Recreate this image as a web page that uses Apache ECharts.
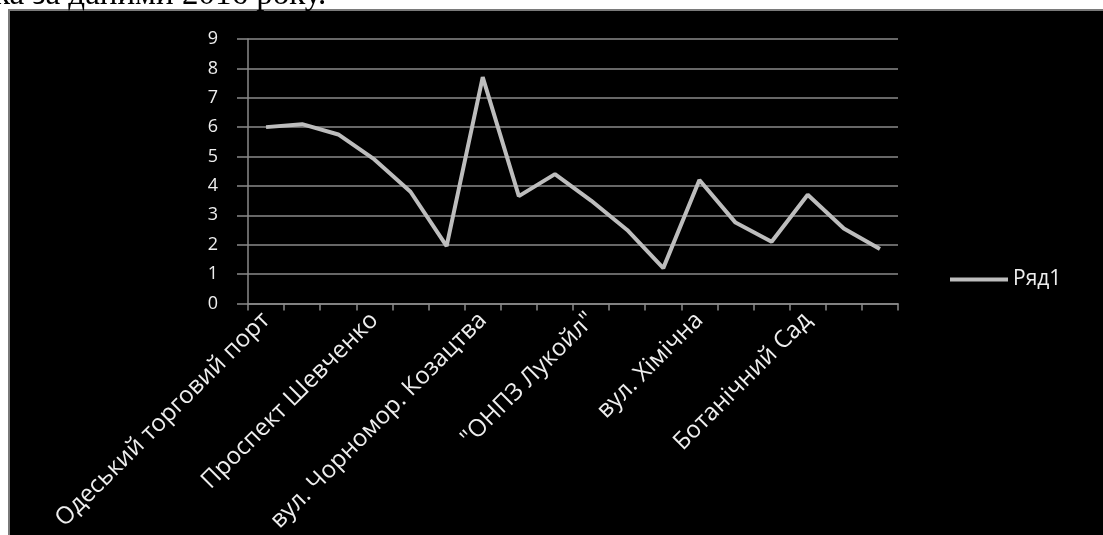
<!DOCTYPE html>
<html>
	<head>
		<meta charset="utf-8" />
		<title>Ряд1</title>
		<style type="text/css">
			html, body {margin:0;padding:0;background:#fff;}
			#chart {width:1103px;height:535px;}
		</style>
	</head>
	<body>
		<div id="chart"></div>
		<script src="https://cdn.jsdelivr.net/npm/echarts@6/dist/echarts.min.js"></script>
		<script type="text/javascript">
			// categories (18 stations, every 3rd is labelled)
			const categories = [
				'Одеський торговий порт', '', '',
				'Проспект Шевченко', '', '',
				'вул. Чорномор. Козацтва', '', '',
				'"ОНПЗ Лукойл"', '', '',
				'вул. Хімічна', '', '',
				'Ботанічний Сад', '', ''
			];
			// series values
			const values = [6.0, 6.1, 5.75, 4.9, 3.8, 1.95, 7.7, 3.65, 4.4, 3.5, 2.5, 1.2, 4.2, 2.75, 2.1, 3.7, 2.55, 1.85];
			const seriesName = 'Ряд1';
			const yMin = 0, yMax = 9, yStep = 1;
			const headerText = 'ка за даними 2016 року.';

			const chart = echarts.init(document.getElementById('chart'));
			const font = '"Open Sans", "Noto Sans", sans-serif';
			const opt = {
				backgroundColor: '#fff',
				animation: false,
				graphic: [{
					type: 'rect',
					z: -10,
					shape: {x: 9, y: 10, width: 1100, height: 540},
					style: {fill: '#000', stroke: '#7a7a7a', lineWidth: 2}
				}, {
					type: 'text',
					z: -10,
					style: {
						text: headerText,
						x: -6, y: -5,
						fill: '#000',
						fontSize: 33,
						fontFamily: '"Liberation Serif", serif',
						verticalAlign: 'middle'
					}
				}],
				legend: {
					left: 945,
					top: 264,
					icon: 'rect',
					itemWidth: 58,
					itemHeight: 4,
					itemGap: 8,
					textStyle: {color: '#eee', fontSize: 21, fontFamily: font},
					data: [seriesName]
				},
				grid: {left: 248, right: 205, top: 39, bottom: 231},
				xAxis: {
					type: 'category',
					boundaryGap: true,
					data: categories,
					axisLine: {lineStyle: {color: '#8a8a8a', width: 1.5}},
					axisTick: {show: true, interval: 0, length: 7, lineStyle: {color: '#8a8a8a', width: 1.5}},
					axisLabel: {
						interval: 0,
						rotate: 45,
						margin: 13,
						color: '#eee',
						fontSize: 24,
						fontFamily: font
					}
				},
				yAxis: {
					type: 'value',
					min: yMin,
					max: yMax,
					interval: yStep,
					axisLine: {show: true, lineStyle: {color: '#8a8a8a', width: 1.5}},
					axisTick: {show: true, length: 11, lineStyle: {color: '#8a8a8a', width: 1.5}},
					axisLabel: {color: '#eee', fontSize: 18, margin: 30, fontFamily: font},
					splitLine: {lineStyle: {color: '#8a8a8a', width: 1.5}}
				},
				series: [{
					name: seriesName,
					type: 'line',
					data: values,
					showSymbol: false,
					symbol: 'none',
					itemStyle: {color: '#bdbdbd'},
					lineStyle: {color: '#bdbdbd', width: 4}
				}]
			};
			chart.setOption(opt);
		</script>
	</body>
</html>
